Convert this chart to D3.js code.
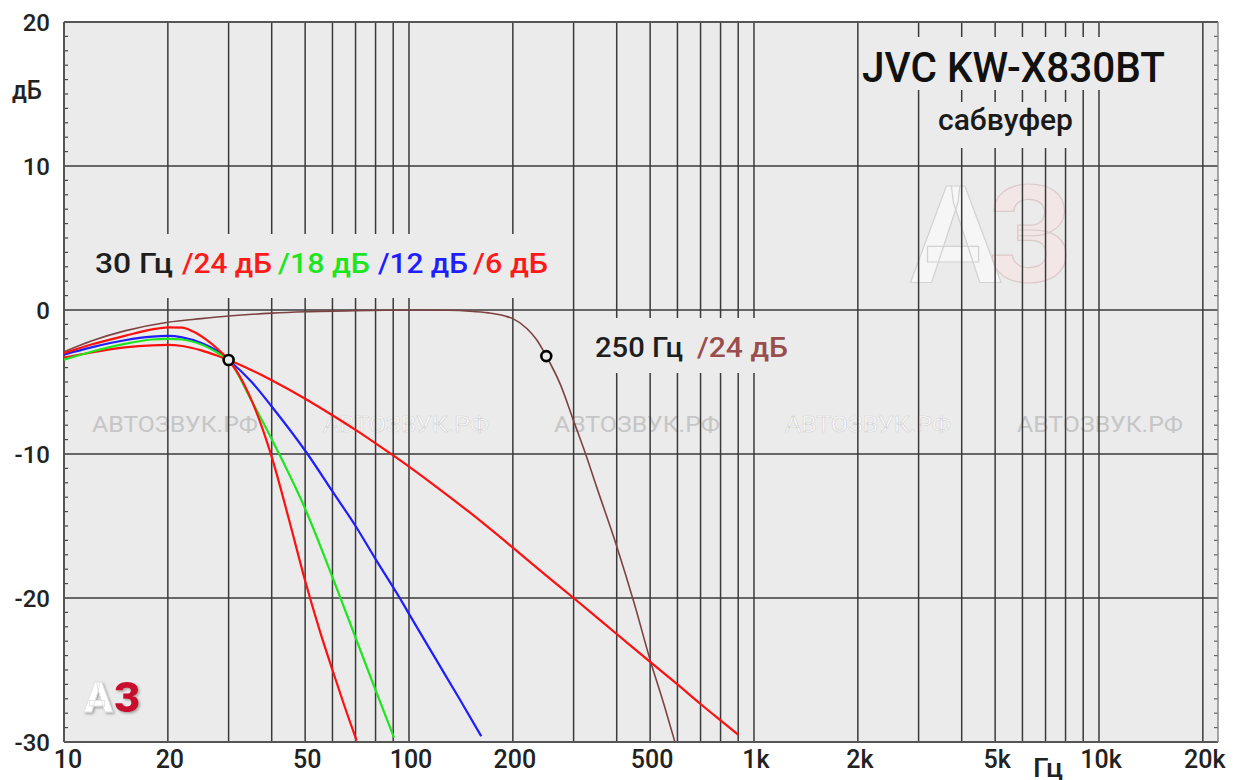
<!DOCTYPE html>
<html><head><meta charset="utf-8">
<script src="https://cdn.jsdelivr.net/npm/d3@7"></script>
<style>body{margin:0;background:#fff}svg{display:block}text{font-family:Roboto,"DejaVu Sans",sans-serif}</style>
</head><body>
<svg id="c" width="1237" height="780"></svg>
<script>
// ---- data ----
const freqTicks = [10,20,50,100,200,500,1000,2000,5000,10000,20000];
const freqTickLabels = ["10","20","50","100","200","500","1k","2k","5k","10k","20k"];
const dbTicks = [20,10,0,-10,-20,-30];
const dbTickLabels = ["20","10","0","-10","-20","-30"];
const gridFreqs = [20,30,40,50,60,70,80,90,100,200,300,400,500,600,700,800,900,1000,2000,3000,4000,5000,6000,7000,8000,9000,10000,20000];

const red24F = [10,12,15,18,20,22,23.7,25.9,28.3,30,33,36,40,45,50,55,60,65,70.5];
const red24  = [-3.0,-2.4,-1.8,-1.35,-1.2,-1.22,-1.5,-2.08,-2.85,-3.47,-5.0,-7.0,-10.2,-14.65,-18.8,-22.2,-25.0,-27.5,-29.9];

const green18F = [10,12,15,18,20,22,25,28,30,35,41.7,50,60,70,80,90.5];
const green18  = [-3.45,-2.9,-2.35,-2.05,-2.0,-2.05,-2.4,-3.0,-3.47,-6.32,-9.82,-13.8,-18.55,-22.75,-26.4,-29.7];

const blue12F = [10,12,15,18,20,22,25,28,30,35,40,50.8,60,70,80,94,100,120,140,162];
const blue12  = [-3.1,-2.6,-2.1,-1.85,-1.8,-1.9,-2.3,-2.9,-3.47,-5.0,-6.7,-10,-12.6,-15.0,-17.3,-20,-21.1,-24.3,-27.0,-29.6];

const red6F = [10,12,15,18,20,22,25,28,30,35,40,50,60,70,80,90,120,150,200,250,300,400,500,600,700,800,900];
const red6  = [-3.3,-2.95,-2.6,-2.45,-2.42,-2.5,-2.8,-3.2,-3.47,-4.18,-4.88,-6.16,-7.31,-8.33,-9.26,-10.1,-12.28,-14.06,-16.5,-18.44,-20.0,-22.5,-24.44,-26.0,-27.36,-28.5,-29.5];

const brownF = [10,12,15,20,25,30,40,50,70,100,130,150,170,190,200,220,235,250,275,300,325,350,400,450,500,550,590];
const brown  = [-2.9,-2.15,-1.45,-0.85,-0.6,-0.42,-0.22,-0.12,-0.04,0,-0.02,-0.08,-0.2,-0.42,-0.6,-1.3,-2.1,-3.2,-5.2,-7.7,-10,-12.3,-16.4,-20.4,-24.3,-27.5,-30];

const markerF = [30,250];
const markerDb = [-3.47,-3.2];

const watermarkX = [175,406,637,868,1100];

// ---- layout ----
const L=64,R=1218,T=22,B=742;
const bg="#ebebeb";
const svg=d3.select("#c");
const x=d3.scaleLog().domain([10,22130]).range([L,R]);
const y=d3.scaleLinear().domain([-30,20]).range([B,T]);

const defs=svg.append("defs");
const sh=defs.append("filter").attr("id","sh").attr("x","-20%").attr("y","-20%").attr("width","150%").attr("height","150%");
sh.append("feDropShadow").attr("dx",1.5).attr("dy",1.5).attr("stdDeviation",1.2).attr("flood-color","#777").attr("flood-opacity",0.6);

svg.append("rect").attr("width",1237).attr("height",780).attr("fill","#fff");
svg.append("rect").attr("x",L).attr("y",T).attr("width",R-L).attr("height",B-T).attr("fill",bg);

// watermarks
svg.selectAll("text.wm").data(watermarkX).join("text").attr("class","wm")
  .attr("x",d=>d).attr("y",432).attr("text-anchor","middle")
  .attr("font-size",22).attr("textLength",166).attr("lengthAdjust","spacingAndGlyphs")
  .attr("fill",(d,i)=>i%2?"#fbfbfb":"#c6c6c6")
  .attr("stroke",(d,i)=>i%2?"#d4d4d4":"none").attr("stroke-width",0.6)
  .text("АВТОЗВУК.РФ");

// big logo
svg.append("text").attr("x",910).attr("y",282).attr("font-size",136).attr("font-weight",700)
  .attr("fill","#f6f6f6").attr("stroke","#d2d2d2").attr("stroke-width",1.2).text("А");
svg.append("text").attr("x",988).attr("y",282).attr("font-size",136).attr("font-weight",700)
  .attr("fill","#f2e6e6").attr("stroke","#dccaca").attr("stroke-width",1.2).text("З");

// grid
const g=svg.append("g");
g.selectAll("line.v").data(gridFreqs).join("line")
  .attr("x1",d=>x(d)).attr("x2",d=>x(d)).attr("y1",T).attr("y2",B)
  .attr("stroke","#3a3a3a").attr("stroke-width",1.5);
g.selectAll("line.h").data([10,0,-10,-20]).join("line")
  .attr("x1",L).attr("x2",R).attr("y1",d=>y(d)).attr("y2",d=>y(d))
  .attr("stroke","#3a3a3a").attr("stroke-width",1.5);
// minor ticks
const minor=d3.range(-29,20).filter(d=>d%10!==0);
g.selectAll("line.ml").data(minor).join("line")
  .attr("x1",L).attr("x2",L+4).attr("y1",d=>y(d)).attr("y2",d=>y(d)).attr("stroke","#444").attr("stroke-width",1.2);
g.selectAll("line.mr").data(minor).join("line")
  .attr("x1",R-4).attr("x2",R).attr("y1",d=>y(d)).attr("y2",d=>y(d)).attr("stroke","#666").attr("stroke-width",1.2);
// border
svg.append("line").attr("x1",L).attr("x2",R).attr("y1",T).attr("y2",T).attr("stroke","#555").attr("stroke-width",2);
svg.append("line").attr("x1",L).attr("x2",R).attr("y1",B).attr("y2",B).attr("stroke","#555").attr("stroke-width",2);
svg.append("line").attr("x1",L).attr("x2",L).attr("y1",T).attr("y2",B).attr("stroke","#555").attr("stroke-width",2);
svg.append("line").attr("x1",R).attr("x2",R).attr("y1",T).attr("y2",B).attr("stroke","#888").attr("stroke-width",1.5);

// label backgrounds (hide grid)
[[88,234,472,64],[585,318,210,55],[860,37,310,53],[935,102,145,46]].forEach(b=>{
  svg.append("rect").attr("x",b[0]).attr("y",b[1]).attr("width",b[2]).attr("height",b[3]).attr("fill",bg);
});

// small logo
svg.append("text").attr("x",84).attr("y",712).attr("font-size",42).attr("font-weight",900)
  .attr("fill","#fff").attr("stroke","#e0e0e0").attr("stroke-width",0.8).attr("filter","url(#sh)").text("А");
svg.append("text").attr("x",114).attr("y",712).attr("font-size",42).attr("font-weight",900)
  .attr("fill","#c8102e").attr("filter","url(#sh)").text("З");

// curves
svg.append("clipPath").attr("id","clip").append("rect").attr("x",L).attr("y",T).attr("width",R-L).attr("height",B-T);
const line=d3.line().x(d=>x(d[0])).y(d=>y(d[1])).curve(d3.curveMonotoneX);
const series=[
  {f:brownF,v:brown,c:"#7d4343",w:1.6},
  {f:red6F,v:red6,c:"#ff1010",w:2.2},
  {f:blue12F,v:blue12,c:"#1e1eff",w:2.2},
  {f:green18F,v:green18,c:"#1ee61e",w:2.2},
  {f:red24F,v:red24,c:"#ff1010",w:2.2}
];
const cg=svg.append("g").attr("clip-path","url(#clip)");
series.forEach(s=>{
  cg.append("path").datum(s.f.map((f,i)=>[f,s.v[i]])).attr("d",line)
    .attr("fill","none").attr("stroke",s.c).attr("stroke-width",s.w).attr("stroke-linejoin","round");
});
svg.selectAll("circle.mk").data(markerF).join("circle")
  .attr("cx",d=>x(d)).attr("cy",(d,i)=>y(markerDb[i])).attr("r",5)
  .attr("fill",bg).attr("stroke","#000").attr("stroke-width",2.6);

// texts
const dark="#1e1e1e";
function txt(t,xx,yy,fs,col,len,anchor,weight){
  const e=svg.append("text").attr("x",xx).attr("y",yy).attr("font-size",fs).attr("fill",col)
    .attr("font-weight",weight||500).text(t);
  if(len) e.attr("textLength",len).attr("lengthAdjust","spacingAndGlyphs");
  if(anchor) e.attr("text-anchor",anchor);
  return e;
}
txt("30 Гц",95,273,28,dark,78);
txt("/24 дБ",182,273,28,"#ff1a1a",90);
txt("/18 дБ",278,273,28,"#1ee61e",92);
txt("/12 дБ",378,273,28,"#1e1eff",90);
txt("/6 дБ",473,273,28,"#ff1a1a",75);
txt("250 Гц",595,357,28,dark,88);
txt("/24 дБ",697,357,28,"#9a4d4d",91);
txt("JVC KW-X830BT",862,82,42,"#111",303);
txt("сабвуфер",938,130,30,"#1a1a1a",135);

// axis labels
svg.selectAll("text.yt").data(dbTicks).join("text").attr("class","yt")
  .attr("x",50).attr("y",d=>y(d)+8.5).attr("text-anchor","end").attr("font-size",24)
  .attr("font-weight",500).attr("fill","#222").text((d,i)=>dbTickLabels[i]);
svg.selectAll("text.xt").data(freqTicks).join("text").attr("class","xt")
  .attr("x",(d,i)=>i===0?68:x(d)+2).attr("y",768).attr("text-anchor","middle").attr("font-size",25)
  .attr("font-weight",500).attr("fill","#222").text((d,i)=>freqTickLabels[i]);
txt("дБ",12,99,25,"#222",30);
txt("Гц",1033,777,25,"#222",30);
</script>
</body></html>
